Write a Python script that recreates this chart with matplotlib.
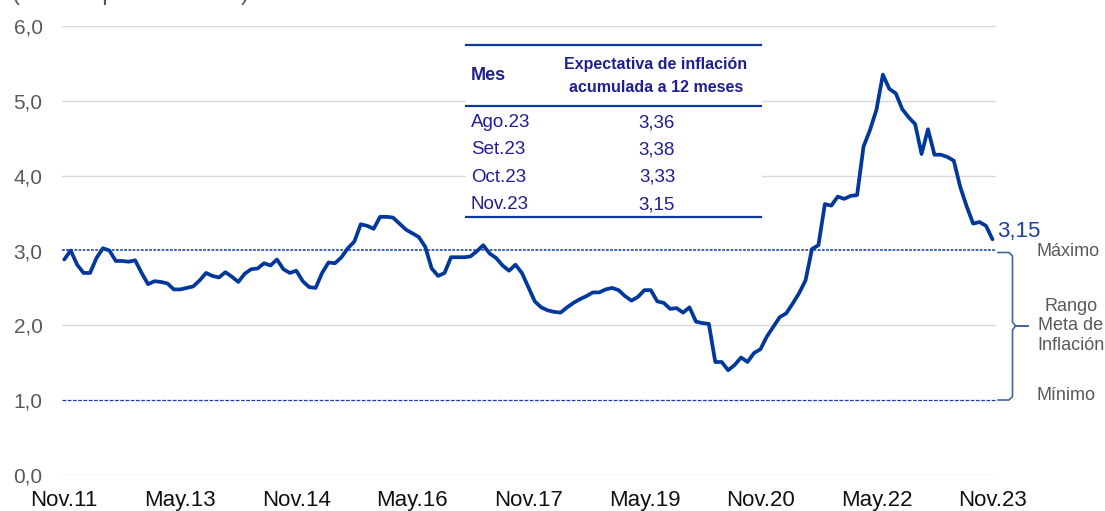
import numpy as np
import matplotlib
matplotlib.use("Agg")
import matplotlib.pyplot as plt
from matplotlib.lines import Line2D
from matplotlib.patches import Rectangle

plt.rcParams['font.family'] = ['Liberation Sans', 'DejaVu Sans']

# Expectativa de inflación a 12 meses, mensual Nov.11 - Nov.23
expectativa = [
    2.88, 3.00, 2.81, 2.70, 2.70, 2.90, 3.03, 3.00, 2.86, 2.86, 2.85, 2.87,
    2.70, 2.55, 2.59, 2.58, 2.56, 2.48, 2.48, 2.50, 2.52, 2.60, 2.70, 2.66,
    2.64, 2.71, 2.65, 2.58, 2.69, 2.75, 2.76, 2.83, 2.80, 2.88, 2.75, 2.70,
    2.73, 2.59, 2.51, 2.50, 2.70, 2.84, 2.83, 2.91, 3.03, 3.12, 3.35, 3.33,
    3.29, 3.45, 3.45, 3.44, 3.36, 3.28, 3.23, 3.18, 3.05, 2.76, 2.66, 2.70,
    2.91, 2.91, 2.91, 2.92, 2.99, 3.07, 2.96, 2.90, 2.80, 2.73, 2.81, 2.70,
    2.51, 2.32, 2.24, 2.20, 2.18, 2.17, 2.24, 2.30, 2.35, 2.39, 2.44, 2.44,
    2.48, 2.50, 2.47, 2.39, 2.33, 2.38, 2.47, 2.47, 2.32, 2.30, 2.22, 2.23,
    2.17, 2.24, 2.05, 2.03, 2.02, 1.51, 1.51, 1.40, 1.47, 1.57, 1.51, 1.63,
    1.68, 1.85, 1.98, 2.11, 2.16, 2.29, 2.43, 2.60, 3.02, 3.07, 3.62, 3.60,
    3.72, 3.69, 3.73, 3.74, 4.39, 4.61, 4.88, 5.35, 5.16, 5.10, 4.89, 4.78,
    4.69, 4.29, 4.62, 4.28, 4.28, 4.25, 4.20, 3.85, 3.59, 3.36, 3.38, 3.33,
    3.15,
]
tick_labels = ["Nov.11", "May.13", "Nov.14", "May.16", "Nov.17",
               "May.19", "Nov.20", "May.22", "Nov.23"]
rango_min, rango_max = 1.0, 3.0

tabla_meses = ["Ago.23", "Set.23", "Oct.23", "Nov.23"]
tabla_valores = ["3,36", "3,38", "3,33", "3,15"]
ultimo_label = "3,15"

W, H = 1105, 511
LINE_COLOR = '#00399b'
TXT_BLUE = '#1e1e96'
GRAY = '#595959'


def fx(px):
    return px / W


def fy(py):
    return 1 - py / H


fig = plt.figure(figsize=(W / 100, H / 100), dpi=100)
ax = fig.add_axes([fx(62), fy(475), fx(996) - fx(62), fy(26) - fy(475)])

x = np.arange(len(expectativa))
ax.set_xlim(-0.35, len(expectativa) - 0.45)
ax.set_ylim(0, 6)

# rejilla
for v in [0, 2, 4, 5, 6]:
    ax.axhline(v, color='#d9d9d9', lw=1.0, zorder=1)
ax.axhline(rango_max, color='#3357a8', lw=1.3, ls=(0, (1.5, 0.8)), zorder=2)
ax.axhline(rango_min, color='#1f3fa0', lw=0.9, ls=(0, (3, 1.2)), zorder=2)

ax.plot(x, expectativa, color=LINE_COLOR, lw=2.7, solid_joinstyle='round',
        solid_capstyle='round', zorder=4)

for s in ax.spines.values():
    s.set_visible(False)
ax.tick_params(length=0)
ax.set_yticks(range(0, 7))
ax.set_yticklabels([f"{v},0" for v in range(0, 7)], fontsize=15, color=GRAY)
ax.tick_params(axis='y', pad=14)
ax.set_xticks(x[::18])
ax.set_xticklabels(tick_labels, fontsize=16, color='#111111')
ax.tick_params(axis='x', pad=10.5)

# tabla
fig.patches.append(Rectangle((fx(466), fy(218)), fx(762) - fx(466), fy(44) - fy(218),
                             transform=fig.transFigure, facecolor='white',
                             edgecolor='none', zorder=3))
ax.set_zorder(1)
ax.patch.set_visible(False)
for yy in [45, 106.5, 217]:
    fig.add_artist(Line2D([fx(466), fx(761)], [fy(yy), fy(yy)], color='#0a3a9a',
                          lw=1.6, zorder=5))

fig.text(fx(471), fy(75), "Mes", fontsize=13, fontweight='bold', color=TXT_BLUE,
         va='center', ha='left', zorder=5)
fig.text(fx(656), fy(65), "Expectativa de inflación", fontsize=11.5, fontweight='bold',
         color=TXT_BLUE, va='center', ha='center', zorder=5)
fig.text(fx(656), fy(87.5), "acumulada a 12 meses", fontsize=11.5, fontweight='bold',
         color=TXT_BLUE, va='center', ha='center', zorder=5)
for i, (m, v) in enumerate(zip(tabla_meses, tabla_valores)):
    yy = 122.7 + i * 27.3
    fig.text(fx(471), fy(yy), m, fontsize=13.5, color=TXT_BLUE, va='center',
             ha='left', zorder=5)
    fig.text(fx(657), fy(yy), v, fontsize=13.5, color=TXT_BLUE, va='center',
             ha='center', zorder=5)

# etiqueta del último dato
fig.text(fx(997), fy(231), ultimo_label, fontsize=16, color='#1f3d9c', va='center', ha='left')

# rango meta
fig.text(fx(1037), fy(251), "Máximo", fontsize=13, color=GRAY, va='center', ha='left')
fig.text(fx(1071), fy(326), "Rango\nMeta de\nInflación", fontsize=13, color=GRAY,
         va='center', ha='center', multialignment='center')
fig.text(fx(1037), fy(395), "Mínimo", fontsize=13, color=GRAY, va='center', ha='left')

brace = [(998, 252.5), (1009, 252.5), (1012.5, 256), (1012.5, 322), (1015.5, 326),
         (1028, 326), (1015.5, 326), (1012.5, 330), (1012.5, 396.5), (1009, 400),
         (998, 400)]
fig.add_artist(Line2D([fx(p[0]) for p in brace], [fy(p[1]) for p in brace],
                      color='#44689c', lw=1.2))

# título cortado en el borde superior (como en la imagen original)
fig.text(fx(12), fy(0.3), "(Puntos porcentuales)", fontsize=17.5, color=GRAY,
         va='baseline', ha='left')

fig.savefig("out.png", dpi=100)
